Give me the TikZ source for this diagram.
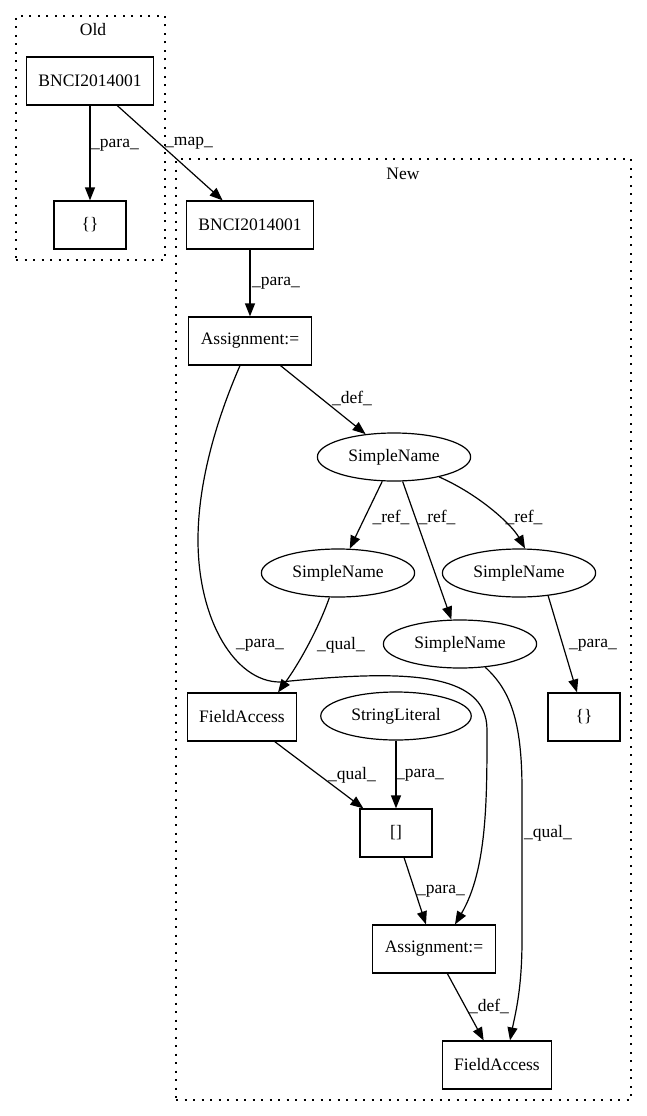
\documentclass[tikz,border=0pt]{standalone}
\usepackage{fontspec}
\setmainfont{Liberation Serif}
\usetikzlibrary{positioning, arrows.meta}
\usetikzlibrary{shapes.geometric}

\begin{document}
\begin{tikzpicture}[x=1pt, y=-1pt,
        every node/.style={font=\fontsize{17.5}{21}\selectfont},
        box/.style={draw, rectangle, line width=1.2pt, minimum height=48pt, minimum width=72pt, inner xsep=12pt},
        oval/.style={draw, ellipse, line width=1.2pt, minimum height=48pt, inner xsep=8.5pt},
        cluster/.style={draw, line width=1.2pt, dash pattern=on 2pt off 6.5pt},
        edge/.style={-{Triangle[length=13pt, width=10pt]}, line width=1.2pt},
        lbl/.style={inner sep=0pt}]
                \useasboundingbox (0,0) rectangle (647,1116);

                % clusters
                \node[cluster, minimum width=149pt, minimum height=244pt] (old) at (90.5,138) {};
                \node (oldlbl) at (93,30) {Old};
                \node[cluster, minimum width=455pt, minimum height=941pt] (new) at (403.5,629.5) {};
                \node (newlbl) at (403,174) {New};

                \node[box] (oB) at (90,81) {BNCI2014001};
                \node[box] (oE) at (90,225) {\{\}};
                \node[box] (nB) at (250,225) {BNCI2014001};
                \node[box] (a1) at (250,341) {Assignment:=};
                \node[oval] (sT) at (394,457) {SimpleName};
                \node[oval] (sL) at (338,573) {SimpleName};
                \node[oval] (sR) at (519,573) {SimpleName};
                \node[oval] (sM) at (460,644) {SimpleName};
                \node[box] (fA1) at (242,717) {FieldAccess};
                \node[oval] (lit) at (396,716) {StringLiteral};
                \node[box] (eR) at (584,717) {\{\}};
                \node[box] (br) at (396,833) {[]};
                \node[box] (a2) at (434,949) {Assignment:=};
                \node[box] (fA2) at (497,1065) {FieldAccess};

                \draw[edge] (oB) -- (oE) node[lbl] at (115,145) {\_para\_};
                \draw[edge] (oB) -- (nB) node[lbl] at (189,143) {\_map\_};
                \draw[edge] (nB) -- (a1) node[lbl] at (276,283) {\_para\_};
                \draw[edge] (a1) -- (sT) node[lbl] at (352,398) {\_def\_};
                \draw[edge] ([xshift=-10pt]a1.south) .. controls (225,400) and (198,470) .. (198,540)
                        .. controls (198,620) and (235,682) .. (280,682)
                        .. controls (400,670) and (487,670) .. (487,730)
                        .. controls (487,800) and (487,870) .. ([xshift=21pt]a2.north)
                        node[lbl] at (260,645) {\_para\_};
                \draw[edge] (sT) -- (sL) node[lbl] at (391,517) {\_ref\_};
                \draw[edge] (sT) -- (sM) node[lbl] at (437,517) {\_ref\_};
                \draw[edge] (sT) .. controls (480,495) and (512,525) .. ([xshift=6pt]sR.north) node[lbl] at (524,517) {\_ref\_};
                \draw[edge] (sL) .. controls (318,630) and (298,665) .. ([xshift=36pt]fA1.north) node[lbl] at (341,645) {\_qual\_};
                \draw[edge] (sR.-38) -- ([xshift=-7pt]eR.north) node[lbl] at (593,645) {\_para\_};
                \draw[edge] (sM) .. controls (510,690) and (522,720) .. (522,790) -- (522,940)
                        .. controls (522,990) and (515,1015) .. ([xshift=13pt]fA2.north)
                        node[lbl] at (548,833) {\_qual\_};
                \draw[edge] (fA1) -- (br) node[lbl] at (352,775) {\_qual\_};
                \draw[edge] (lit) -- (br) node[lbl] at (420,775) {\_para\_};
                \draw[edge] (br) -- (a2) node[lbl] at (441,891) {\_para\_};
                \draw[edge] (a2) -- (fA2) node[lbl] at (489,1006) {\_def\_};
            \end{tikzpicture}
\end{document}
